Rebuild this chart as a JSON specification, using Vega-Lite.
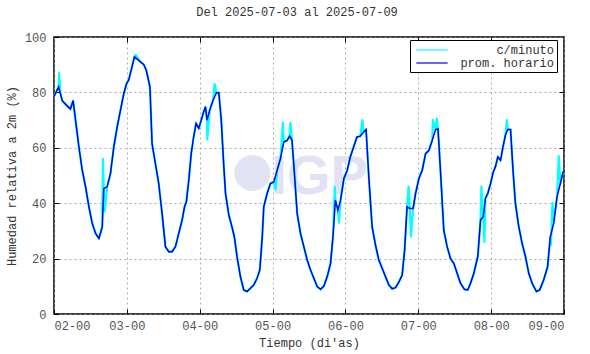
{
  "$schema": "https://vega.github.io/schema/vega-lite/v6.json",
  "autosize": {"type": "none"},
  "width": 510,
  "height": 277,
  "padding": {"left": 54, "top": 37, "right": 26, "bottom": 40},
  "background": "white",
  "title": {"text": "Del 2025-07-03 al 2025-07-09", "font": "Liberation Mono", "fontSize": 12, "fontWeight": "normal", "color": "#333", "offset": 12, "dx": -12},
  "config": {
    "view": {"stroke": "#000", "strokeWidth": 1.5},
    "axis": {"domain": false, "labelFont": "Liberation Mono", "labelFontSize": 12, "labelColor": "#555", "titleFont": "Liberation Mono", "titleFontSize": 12, "titleFontWeight": "normal", "titleColor": "#333", "tickColor": "#000", "tickWidth": 1, "gridColor": "#999", "gridDash": [2, 3], "gridWidth": 0.8},
    "legend": {"orient": "none", "legendX": 356, "legendY": 3, "strokeColor": "#000", "strokeWidth": 1, "fillColor": "white", "padding": 3, "symbolType": "M-2.6,0H2.6", "symbolSize": 144, "symbolOffset": 12, "symbolStrokeWidth": 1.2, "labelFont": "Liberation Mono", "labelFontSize": 12, "labelColor": "#333", "labelAlign": "right", "labelOffset": 115, "rowPadding": 0, "title": null}
  },
  "datasets": {
    "horario": [
      {"h":0,"v":78.5},{"h":1.5,"v":82},{"h":2.7,"v":77},{"h":4,"v":75.5},{"h":5.4,"v":74},{"h":6.3,"v":77},{"h":8.2,"v":60.3},{"h":9.3,"v":51.9},{"h":10.4,"v":45.9},{"h":11.5,"v":38.7},{"h":12.6,"v":32.7},{"h":13.7,"v":29.1},{"h":14.8,"v":27.3},{"h":15.9,"v":31.5},{"h":16.4,"v":45.3},{"h":17.5,"v":45.9},{"h":18.6,"v":50.7},{"h":19.7,"v":60.3},{"h":20.8,"v":67.5},{"h":21.9,"v":73.6},{"h":23,"v":79.6},{"h":23.9,"v":83.2},{"h":24.6,"v":84.4},{"h":25.7,"v":89.2},{"h":26.5,"v":92.8},{"h":28.5,"v":91},{"h":29.6,"v":90},{"h":30.4,"v":88},{"h":31.6,"v":82},{"h":32.3,"v":61.5},{"h":33.4,"v":54.3},{"h":34.5,"v":47.1},{"h":35.6,"v":36.3},{"h":36.7,"v":24.3},{"h":37.8,"v":22.5},{"h":38.9,"v":22.5},{"h":40,"v":24.3},{"h":41.1,"v":29.1},{"h":42.2,"v":33.9},{"h":43,"v":38.7},{"h":43.6,"v":40.5},{"h":44.4,"v":48.3},{"h":45.2,"v":57.9},{"h":46,"v":63.9},{"h":46.8,"v":68.8},{"h":47.7,"v":67},{"h":48.5,"v":70},{"h":49.3,"v":73},{"h":49.9,"v":74.8},{"h":50.4,"v":70},{"h":51.3,"v":73.6},{"h":52.4,"v":77.2},{"h":53.5,"v":79.9},{"h":54.3,"v":79.9},{"h":55.1,"v":70},{"h":55.9,"v":54},{"h":56.5,"v":43.5},{"h":57.6,"v":35.7},{"h":58.5,"v":32},{"h":59.4,"v":27.9},{"h":60.3,"v":20.7},{"h":61.4,"v":13.5},{"h":62.5,"v":8.7},{"h":63.6,"v":8.1},{"h":64.7,"v":9.3},{"h":65.8,"v":10.5},{"h":66.9,"v":12.9},{"h":67.8,"v":15.9},{"h":68.6,"v":27.9},{"h":69.1,"v":38.7},{"h":70.2,"v":43.5},{"h":71.3,"v":47.1},{"h":72.4,"v":47.7},{"h":73.5,"v":51.9},{"h":74.6,"v":56.1},{"h":75.7,"v":62.1},{"h":76.8,"v":62.7},{"h":77.6,"v":64.2},{"h":78.4,"v":62.7},{"h":79.2,"v":50.7},{"h":80.1,"v":36.3},{"h":81.2,"v":29.1},{"h":82.3,"v":24.3},{"h":83.4,"v":19.5},{"h":84.5,"v":15.9},{"h":85.6,"v":12.9},{"h":86.7,"v":9.9},{"h":87.8,"v":8.9},{"h":88.9,"v":10.1},{"h":90,"v":13.5},{"h":91.1,"v":18.3},{"h":91.9,"v":27.9},{"h":92.7,"v":41.1},{"h":93.5,"v":37.5},{"h":94.4,"v":41.1},{"h":95.5,"v":48.9},{"h":96.6,"v":51.9},{"h":97.6,"v":56.7},{"h":98.7,"v":60.3},{"h":99.8,"v":63.9},{"h":100.9,"v":64.2},{"h":102,"v":65.7},{"h":102.8,"v":66.6},{"h":103.7,"v":49.5},{"h":104.8,"v":31.5},{"h":105.9,"v":24.9},{"h":107,"v":19.5},{"h":108.1,"v":16.5},{"h":109.2,"v":13.5},{"h":110.3,"v":10.5},{"h":111.4,"v":9.1},{"h":112.5,"v":9.5},{"h":113.6,"v":11.5},{"h":114.7,"v":14.1},{"h":115.5,"v":23.1},{"h":116.3,"v":38.7},{"h":117.2,"v":38.1},{"h":118.3,"v":38.1},{"h":119.1,"v":43.5},{"h":120.2,"v":48.9},{"h":121.3,"v":51.9},{"h":122.4,"v":57.9},{"h":123.5,"v":59.1},{"h":124.6,"v":62.7},{"h":125.7,"v":66.6},{"h":126.5,"v":66.8},{"h":127.3,"v":51.9},{"h":128.4,"v":30.3},{"h":129.5,"v":24.3},{"h":130.6,"v":20.1},{"h":131.7,"v":18.3},{"h":132.8,"v":14.7},{"h":133.9,"v":11.1},{"h":135.2,"v":8.9},{"h":136.3,"v":8.7},{"h":137.2,"v":11.1},{"h":138.3,"v":14.7},{"h":139.6,"v":20.7},{"h":140.5,"v":33.9},{"h":141.4,"v":35.1},{"h":142.1,"v":41.7},{"h":142.9,"v":43.5},{"h":143.8,"v":47.1},{"h":144.7,"v":51.3},{"h":145.4,"v":53.1},{"h":146.2,"v":56.7},{"h":147.1,"v":55.5},{"h":147.9,"v":60.3},{"h":148.7,"v":64.5},{"h":149.5,"v":66.6},{"h":150.4,"v":66.6},{"h":151.2,"v":51.9},{"h":152,"v":39.9},{"h":153.1,"v":31.5},{"h":154.2,"v":25.5},{"h":155.3,"v":20.7},{"h":156.4,"v":14.7},{"h":157.5,"v":11.1},{"h":158.9,"v":8.1},{"h":160,"v":8.7},{"h":161.3,"v":12.3},{"h":162.6,"v":17.1},{"h":163.5,"v":27.9},{"h":164.6,"v":32.7},{"h":165.7,"v":42.3},{"h":166.8,"v":47.1},{"h":167.7,"v":51.3},{"h":168,"v":51.3}
    ],
    "minuto": [
      {"h":0,"v":78.5},{"h":1.5,"v":82},{"h":1.7,"v":87},{"h":2.1,"v":80},{"h":2.7,"v":77},{"h":4,"v":75.5},{"h":5.4,"v":74},{"h":6.3,"v":77},{"h":8.2,"v":60.3},{"h":9.3,"v":51.9},{"h":10.4,"v":45.9},{"h":11.5,"v":38.7},{"h":12.6,"v":32.7},{"h":13.7,"v":29.1},{"h":14.8,"v":27.3},{"h":15.9,"v":31.5},{"h":16.1,"v":56},{"h":16.4,"v":45.3},{"h":16.7,"v":37},{"h":17.5,"v":45.9},{"h":18.6,"v":50.7},{"h":19.7,"v":60.3},{"h":20.8,"v":67.5},{"h":21.9,"v":73.6},{"h":23,"v":79.6},{"h":23.9,"v":83.2},{"h":24.6,"v":84.4},{"h":25.7,"v":89.2},{"h":26.5,"v":92.8},{"h":26.9,"v":93.5},{"h":28.5,"v":91},{"h":29.6,"v":90},{"h":30.4,"v":88},{"h":31.6,"v":82},{"h":32.3,"v":61.5},{"h":33.4,"v":54.3},{"h":34.5,"v":47.1},{"h":35.6,"v":36.3},{"h":36.7,"v":24.3},{"h":37.8,"v":22.5},{"h":38.9,"v":22.5},{"h":40,"v":24.3},{"h":41.1,"v":29.1},{"h":42.2,"v":33.9},{"h":43,"v":38.7},{"h":43.6,"v":40.5},{"h":44.4,"v":48.3},{"h":45.2,"v":57.9},{"h":46,"v":63.9},{"h":46.8,"v":68.8},{"h":47.7,"v":67},{"h":48.5,"v":70},{"h":49.3,"v":73},{"h":49.9,"v":74.8},{"h":50.4,"v":70},{"h":50.5,"v":63},{"h":51.3,"v":73.6},{"h":52.4,"v":77.2},{"h":52.9,"v":83},{"h":53.5,"v":79.9},{"h":54.3,"v":79.9},{"h":55.1,"v":70},{"h":55.9,"v":54},{"h":56.5,"v":43.5},{"h":57.6,"v":35.7},{"h":58.5,"v":32},{"h":59.4,"v":27.9},{"h":60.3,"v":20.7},{"h":61.4,"v":13.5},{"h":62.5,"v":8.7},{"h":63.6,"v":8.1},{"h":64.7,"v":9.3},{"h":65.8,"v":10.5},{"h":66.9,"v":12.9},{"h":67.8,"v":15.9},{"h":68.6,"v":27.9},{"h":69.1,"v":38.7},{"h":70.2,"v":43.5},{"h":71.3,"v":47.1},{"h":72.4,"v":47.7},{"h":73,"v":45},{"h":73.5,"v":51.9},{"h":74.6,"v":56.1},{"h":75.4,"v":69},{"h":75.7,"v":62.1},{"h":76.8,"v":62.7},{"h":77.6,"v":64.2},{"h":77.9,"v":69},{"h":78.4,"v":62.7},{"h":79.2,"v":50.7},{"h":80.1,"v":36.3},{"h":81.2,"v":29.1},{"h":82.3,"v":24.3},{"h":83.4,"v":19.5},{"h":84.5,"v":15.9},{"h":85.6,"v":12.9},{"h":86.7,"v":9.9},{"h":87.8,"v":8.9},{"h":88.9,"v":10.1},{"h":90,"v":13.5},{"h":91.1,"v":18.3},{"h":91.9,"v":27.9},{"h":92.5,"v":46},{"h":92.7,"v":41.1},{"h":93.5,"v":37.5},{"h":93.9,"v":33},{"h":94.4,"v":41.1},{"h":95.5,"v":48.9},{"h":96.6,"v":51.9},{"h":97.6,"v":56.7},{"h":98.7,"v":60.3},{"h":99.8,"v":63.9},{"h":100.9,"v":64.2},{"h":101.6,"v":70},{"h":102,"v":65.7},{"h":102.8,"v":66.6},{"h":103.7,"v":49.5},{"h":104.8,"v":31.5},{"h":105.9,"v":24.9},{"h":107,"v":19.5},{"h":108.1,"v":16.5},{"h":109.2,"v":13.5},{"h":110.3,"v":10.5},{"h":111.4,"v":9.1},{"h":112.5,"v":9.5},{"h":113.6,"v":11.5},{"h":114.7,"v":14.1},{"h":115.5,"v":23.1},{"h":116.3,"v":38.7},{"h":116.8,"v":46},{"h":117.2,"v":38.1},{"h":117.6,"v":28},{"h":118.3,"v":38.1},{"h":119.1,"v":43.5},{"h":120.2,"v":48.9},{"h":121.3,"v":51.9},{"h":122.4,"v":57.9},{"h":123.5,"v":59.1},{"h":124.6,"v":62.7},{"h":124.8,"v":70},{"h":125.7,"v":66.6},{"h":126.1,"v":70.5},{"h":126.5,"v":66.8},{"h":127.3,"v":51.9},{"h":128.4,"v":30.3},{"h":129.5,"v":24.3},{"h":130.6,"v":20.1},{"h":131.7,"v":18.3},{"h":132.8,"v":14.7},{"h":133.9,"v":11.1},{"h":135.2,"v":8.9},{"h":136.3,"v":8.7},{"h":137.2,"v":11.1},{"h":138.3,"v":14.7},{"h":139.6,"v":20.7},{"h":140.5,"v":33.9},{"h":140.8,"v":46},{"h":141.4,"v":35.1},{"h":141.8,"v":26},{"h":142.1,"v":41.7},{"h":142.9,"v":43.5},{"h":143.8,"v":47.1},{"h":144.7,"v":51.3},{"h":145.4,"v":53.1},{"h":146.2,"v":56.7},{"h":147.1,"v":55.5},{"h":147.9,"v":60.3},{"h":148.7,"v":64.5},{"h":149.2,"v":70},{"h":149.5,"v":66.6},{"h":150.4,"v":66.6},{"h":151.2,"v":51.9},{"h":152,"v":39.9},{"h":153.1,"v":31.5},{"h":154.2,"v":25.5},{"h":155.3,"v":20.7},{"h":156.4,"v":14.7},{"h":157.5,"v":11.1},{"h":158.9,"v":8.1},{"h":160,"v":8.7},{"h":161.3,"v":12.3},{"h":162.6,"v":17.1},{"h":163.5,"v":27.9},{"h":163.7,"v":25},{"h":164.2,"v":40},{"h":164.6,"v":32.7},{"h":165.7,"v":42.3},{"h":166.3,"v":57},{"h":166.8,"v":47.1},{"h":167.7,"v":51.3},{"h":168,"v":51.3}
    ],
    "marca": [{"etiqueta": "IGP"}]
  },
  "resolve": {"axis": {"x": "independent", "y": "independent"}},
  "layer": [
    {
      "data": {"name": "marca"},
      "mark": {"type": "point", "shape": "circle", "filled": true, "size": 1300, "color": "#e2e4f6", "opacity": 1},
      "encoding": {
        "x": {"datum": 65.3, "type": "quantitative", "scale": {"domain": [0, 168]}, "axis": null},
        "y": {"datum": 50.9, "type": "quantitative", "scale": {"domain": [0, 100]}, "axis": null}
      }
    },
    {
      "data": {"name": "marca"},
      "mark": {"type": "text", "font": "Liberation Sans", "fontWeight": "bold", "fontSize": 56, "color": "#e2e2f4", "baseline": "alphabetic", "align": "center"},
      "encoding": {
        "x": {"datum": 87.5, "type": "quantitative", "scale": {"domain": [0, 168]}, "axis": null},
        "y": {"datum": 43.5, "type": "quantitative", "scale": {"domain": [0, 100]}, "axis": null},
        "text": {"field": "etiqueta"}
      }
    },
    {
      "data": {"name": "minuto"},
      "mark": {"type": "line", "strokeWidth": 2.2, "strokeJoin": "round"},
      "encoding": {
        "x": {"field": "h", "type": "quantitative", "scale": {"domain": [0, 168], "nice": false},
          "axis": {"orient": "bottom", "values": [0, 24, 48, 72, 96, 120, 144, 168], "labelExpr": "'0' + (2 + datum.value/24) + '-00'", "grid": true, "ticks": true, "tickSize": -5, "labelPadding": 11, "title": "Tiempo (di'as)", "titlePadding": 6}},
        "y": {"field": "v", "type": "quantitative", "scale": {"domain": [0, 100], "nice": false},
          "axis": {"orient": "left", "values": [0, 20, 40, 60, 80, 100], "grid": true, "ticks": true, "tickSize": -5, "labelPadding": 13, "title": "Humedad relativa a 2m (%)", "titlePadding": 6}},
        "color": {"datum": "c/minuto", "type": "nominal", "scale": {"domain": ["c/minuto", "prom. horario"], "range": ["#00ffff", "#0000ee"]}, "legend": {"symbolStrokeWidth": 1.2}}
      }
    },
    {
      "data": {"name": "horario"},
      "mark": {"type": "line", "strokeWidth": 1.5},
      "encoding": {
        "x": {"field": "h", "type": "quantitative", "scale": {"domain": [0, 168], "nice": false},
          "axis": {"orient": "top", "values": [24, 48, 72, 96, 120, 144], "grid": false, "labels": false, "ticks": true, "tickSize": -5, "title": null}},
        "y": {"field": "v", "type": "quantitative", "scale": {"domain": [0, 100], "nice": false},
          "axis": {"orient": "right", "values": [20, 40, 60, 80], "grid": false, "labels": false, "ticks": true, "tickSize": -5, "title": null}},
        "color": {"datum": "prom. horario", "type": "nominal"}
      }
    }
  ]
}
